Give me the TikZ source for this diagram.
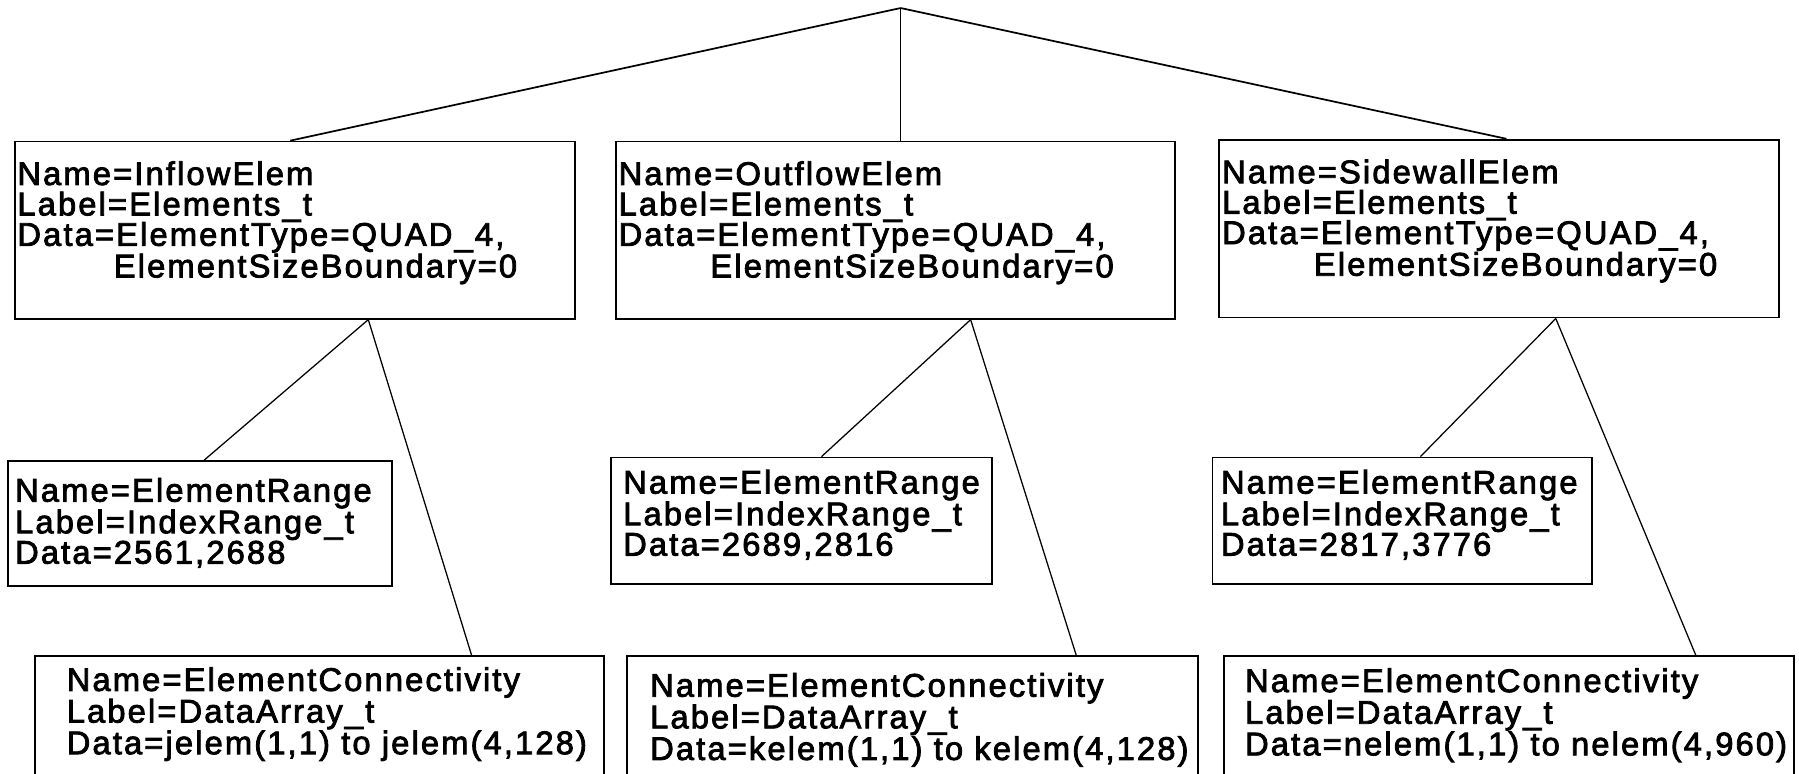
\documentclass[tikz,border=0pt]{standalone}
\usepackage{fontspec}
\usetikzlibrary{calc}
\newfontfamily\dfont[LetterSpace=6.5, FakeBold=2.5]{Liberation Sans}
\tikzset{
  box/.style={draw=black, line width=1.6pt, fill=none, inner sep=0pt, anchor=north west, rectangle},
  txt/.style={anchor=north west, inner sep=0pt, align=left, font=\dfont\fontsize{28.5}{26.5}\selectfont},
  link/.style={draw=black, line width=1.1pt},
  toplink/.style={draw=black, line width=1.5pt}
}
\newcommand{\fl}{\rule{0pt}{25pt}}
\begin{document}
\begin{tikzpicture}[x=1pt, y=-1pt]
\useasboundingbox (0,0) rectangle (1568,674);
\fill[white] (0,0) rectangle (1568,674);
% root
\coordinate (root) at (785,7);
% top level boxes
\node[box, minimum width=488pt, minimum height=154.4pt] (b1) at (12,122.6) {};
\node[box, minimum width=487pt, minimum height=154.4pt] (b2) at (536,122.6) {};
\node[box, minimum width=488pt, minimum height=155pt] (b3) at (1062,121) {};
% range boxes
\node[box, minimum width=334.5pt, minimum height=109pt] (r1) at (6.5,401) {};
\node[box, minimum width=332pt, minimum height=110pt] (r2) at (532,398) {};
\node[box, minimum width=331pt, minimum height=110pt] (r3) at (1056,398) {};
% connectivity boxes
\node[box, minimum width=496pt, minimum height=110pt] (c1) at (30,571) {};
\node[box, minimum width=497pt, minimum height=110pt] (c2) at (546,571) {};
\node[box, minimum width=497pt, minimum height=110pt] (c3) at (1066,571) {};
% texts
\node[txt] (t1) at (15,136) {\fl Name=InflowElem\\Label=Elements\_t\\Data=ElementType=QUAD\_4,\\\hspace*{84pt}ElementSizeBoundary=0};
\node[txt] (t2) at (539,136) {\fl Name=OutflowElem\\Label=Elements\_t\\Data=ElementType=QUAD\_4,\\\hspace*{80pt}ElementSizeBoundary=0};
\node[txt] (t3) at (1065,134.5) {\fl Name=SidewallElem\\Label=Elements\_t\\Data=ElementType=QUAD\_4,\\\hspace*{80pt}ElementSizeBoundary=0};
\node[txt] (tr1) at (13,412) {\fl Name=ElementRange\\Label=IndexRange\_t\\Data=2561,2688};
\node[txt] (tr2) at (543,405) {\fl Name=ElementRange\\Label=IndexRange\_t\\Data=2689,2816};
\node[txt] (tr3) at (1064,405) {\fl Name=ElementRange\\Label=IndexRange\_t\\Data=2817,3776};
\node[txt] (tc1) at (58,577) {\fl Name=ElementConnectivity\\Label=DataArray\_t\\Data=jelem(1,1) to jelem(4,128)};
\node[txt] (tc2) at (566.5,582) {\fl Name=ElementConnectivity\\Label=DataArray\_t\\Data=kelem(1,1) to kelem(4,128)};
\node[txt] (tc3) at (1085,578) {\fl Name=ElementConnectivity\\Label=DataArray\_t\\Data=nelem(1,1) to nelem(4,960)};
% connectors from root
\draw[toplink] (root) -- ($(b1.north west)+(241,0)$);
\draw[link] (root) -- ($(b2.north west)+(249,0)$);
\draw[toplink] (root) -- ($(b3.north west)+(251,0)$);
% connectors to children
\draw[link] ($(b1.south west)+(309,0)$) -- ($(r1.north west)+(171.5,0)$);
\draw[link] ($(b1.south west)+(309,0)$) -- ($(c1.north west)+(381,0)$);
\draw[link] ($(b2.south west)+(310,0)$) -- ($(r2.north west)+(184,0)$);
\draw[link] ($(b2.south west)+(310,0)$) -- ($(c2.north west)+(392,0)$);
\draw[link] ($(b3.south west)+(294,0)$) -- ($(r3.north west)+(182,0)$);
\draw[link] ($(b3.south west)+(294,0)$) -- ($(c3.north west)+(412,0)$);
\end{tikzpicture}
\end{document}
